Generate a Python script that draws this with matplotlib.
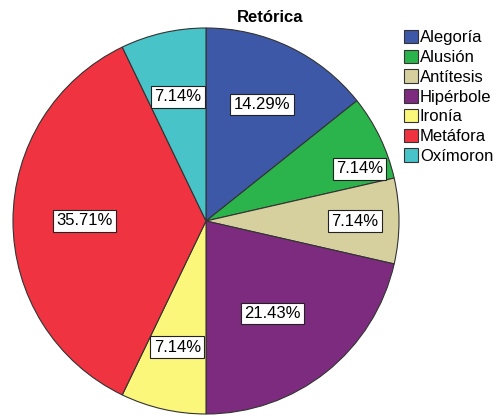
import matplotlib.pyplot as plt
import numpy as np
from matplotlib.patches import Patch

plt.rcParams['font.family'] = ['Liberation Sans', 'DejaVu Sans']

categories = ['Alegoría', 'Alusión', 'Antítesis', 'Hipérbole', 'Ironía', 'Metáfora', 'Oxímoron']
counts = [2, 1, 1, 3, 1, 5, 1]
colors = ['#3e58a8', '#2bb44b', '#d6d09f', '#7d2b7f', '#fbf77b', '#ef3340', '#48c3c8']
# radial position of each percentage box (fraction of radius)
label_r = [0.67, 0.84, 0.77, 0.59, 0.67, 0.63, 0.66]
label_shift = [0, -7, 0, -3, 0, 0, 0]  # degrees

fig = plt.figure(figsize=(4.96, 4.17), dpi=100)
ax = fig.add_axes([13 / 496, 3 / 417, 386 / 496, 386 / 417])

wedges, _ = ax.pie(counts, colors=colors, startangle=90, counterclock=False,
                   wedgeprops=dict(edgecolor='#333333', linewidth=0.8))
ax.set_aspect('equal')
ax.set_xlim(-1, 1)
ax.set_ylim(-1, 1)

total = sum(counts)
for w, c, r, sh in zip(wedges, counts, label_r, label_shift):
    mid = np.deg2rad((w.theta1 + w.theta2) / 2 + sh)
    ax.text(r * np.cos(mid), r * np.sin(mid), f'{100 * c / total:.2f}%',
            ha='center', va='center', fontsize=12,
            bbox=dict(boxstyle='square,pad=0.2', fc='white', ec='#222222', lw=0.8))

fig.text(270 / 496, 1 - 17 / 417, 'Retórica', ha='center', va='center',
         fontsize=12, fontweight='bold')

handles = [Patch(facecolor=col, edgecolor='#333333', linewidth=0.8) for col in colors]
fig.legend(handles, categories, loc='upper left', bbox_to_anchor=(404 / 496, 1 - 30 / 417),
           frameon=False, fontsize=12, handlelength=0.85, handleheight=0.85,
           handletextpad=0.1, borderpad=0, borderaxespad=0, labelspacing=0.26)

fig.savefig('out.png', dpi=100)
